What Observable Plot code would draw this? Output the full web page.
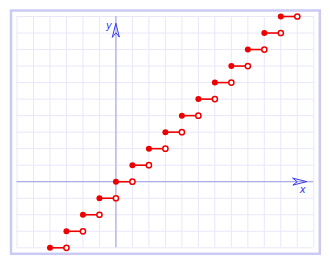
<!DOCTYPE html>
<html>
<head>
<meta charset="utf-8">
<script src="https://cdn.jsdelivr.net/npm/d3@7"></script>
<script src="https://cdn.jsdelivr.net/npm/@observablehq/plot@0.6"></script>
<style>
  html, body { margin: 0; padding: 0; background: #fff; }
  svg { display: block; }
</style>
</head>
<body>
<div id="chart"></div>
<script>
// Step function y = floor(x): each step runs from xStart to xEnd at height yVal
const xStart = [-4, -3, -2, -1, 0, 1, 2, 3, 4, 5, 6, 7, 8, 9, 10];
const xEnd   = [-3, -2, -1, 0, 1, 2, 3, 4, 5, 6, 7, 8, 9, 10, 11];
const yVal   = [-4, -3, -2, -1, 0, 1, 2, 3, 4, 5, 6, 7, 8, 9, 10];

const xDomain = [-6, 12];
const yDomain = [-4, 10];
const gridXTicks = d3.range(-6, 13);
const gridYTicks = d3.range(-4, 11);

const axisLabels = ["x", "y"];

const steps = xStart.map((x0, i) => ({x0, x1: xEnd[i], y: yVal[i]}));

const dart = {
  draw(context, l, r) {
    context.moveTo(0, -l);
    context.lineTo(r, 0);
    context.lineTo(0, -l * 0.32);
    context.lineTo(-r, 0);
    context.closePath();
  }
};

const axisColor = "#9c9ce2";
const arrowColor = "#3a3ae8";

const chart = Plot.plot({
  width: 330,
  height: 264,
  marginLeft: 16.5,
  marginRight: 16.7,
  marginTop: 16,
  marginBottom: 16.7,
  x: {domain: xDomain, axis: null},
  y: {domain: yDomain, axis: null},
  marks: [
    Plot.frame({inset: -6, stroke: "#cacaf4", strokeWidth: 2.5}),
    Plot.gridX(gridXTicks, {stroke: "#e8e8fa", strokeOpacity: 1, strokeWidth: 1}),
    Plot.gridY(gridYTicks, {stroke: "#e8e8fa", strokeOpacity: 1, strokeWidth: 1}),
    Plot.ruleY([0], {stroke: axisColor, strokeWidth: 1}),
    Plot.ruleX([0], {stroke: axisColor, strokeWidth: 1}),
    Plot.link(steps, {x1: "x0", x2: "x1", y1: "y", y2: "y", stroke: "#ee0000", strokeWidth: 1.6}),
    Plot.dot(steps, {x: "x1", y: "y", r: 2.6, fill: "white", stroke: "#ee0000", strokeWidth: 1.5}),
    Plot.dot(steps, {x: "x0", y: "y", r: 3, fill: "#ee0000", stroke: "none"}),
    Plot.vector([{x: 0, y: 9.57, rot: 0}, {x: 11.55, y: 0, rot: 90}], {
      x: "x", y: "y", rotate: "rot", length: 13.5, r: 3.4, anchor: "end",
      shape: dart, stroke: arrowColor, strokeWidth: 1, fill: "none"
    }),
    Plot.text([{t: axisLabels[1], x: -0.42, y: 9.45}, {t: axisLabels[0], x: 11.32, y: -0.47}], {
      x: "x", y: "y", text: "t", fill: arrowColor, fontSize: 10, fontStyle: "italic",
      fontFamily: "DejaVu Sans, sans-serif"
    })
  ]
});

document.getElementById("chart").appendChild(chart);
</script>
</body>
</html>
